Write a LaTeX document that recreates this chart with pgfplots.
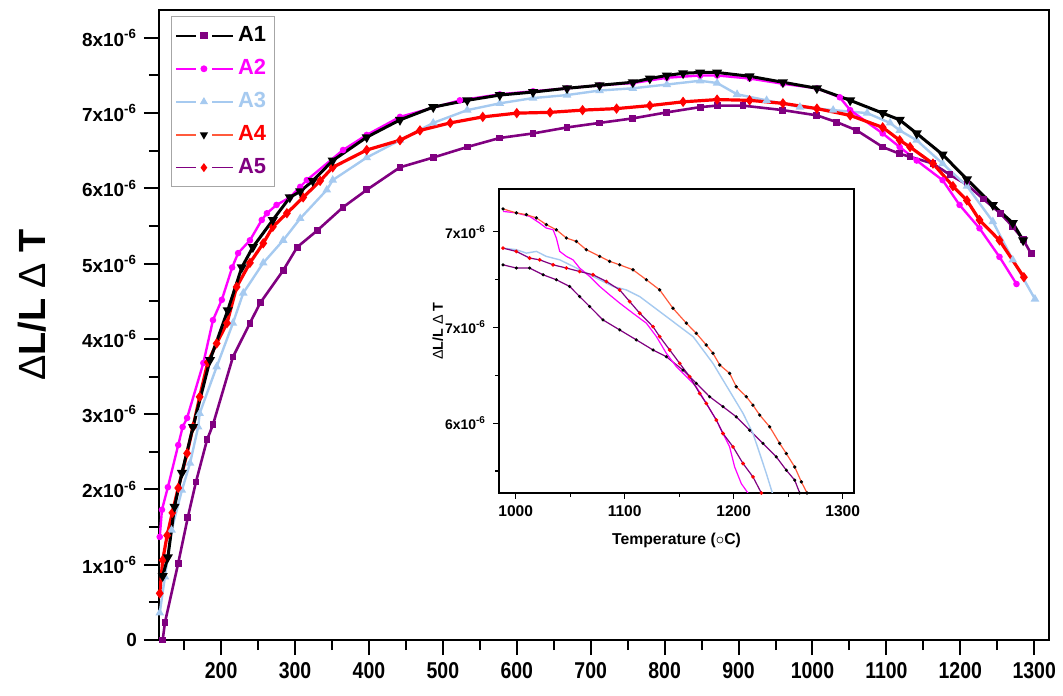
\documentclass[border=0pt]{standalone}
\usepackage{fontspec}
\setmainfont{Liberation Sans}
\usepackage{graphicx}
\usepackage{pgfplots}
\pgfplotsset{compat=1.18}

\definecolor{cpurple}{HTML}{800080}
\definecolor{cmagenta}{HTML}{FF00FF}
\definecolor{cblue}{HTML}{A6CAF0}
\definecolor{cred}{HTML}{FF0000}
\definecolor{corange}{HTML}{FF5A3C}

\pgfplotsset{
  A1/.style={draw=cpurple, line width=1.3bp, mark=square*, mark size=1.05bp, mark options={solid, fill=cpurple, draw=cpurple}},
  A2/.style={draw=cmagenta, line width=1.2bp, mark=*, mark size=1.0bp, mark options={solid, fill=cmagenta, draw=cmagenta}},
  A3/.style={draw=cblue, line width=1.2bp, mark=triangle*, mark size=1.3bp, mark options={solid, fill=cblue, draw=cblue}},
  A4/.style={draw=black, line width=1.5bp, mark=triangle*, mark size=1.45bp, mark options={solid, rotate=180, fill=black, draw=black}},
  A5/.style={draw=cred, line width=1.6bp, mark=diamond*, mark size=1.3bp, mark options={solid, fill=cred, draw=cred}},
  leg/.style={legend image code/.code={
      \draw[##1,mark=none] (0bp,0bp) -- (10bp,0bp);
      \draw[##1,mark=none] (18bp,0bp) -- (28.5bp,0bp);
      \draw[##1] plot coordinates {(13.8bp,0bp)};}},
}

\begin{document}
\begin{tikzpicture}
\useasboundingbox (0,0) rectangle (531.5bp,348bp);

% main chart
\begin{axis}[
  at={(79.5bp,28bp)}, anchor=south west,
  scale only axis, width=445bp, height=315bp,
  xmin=116, xmax=1320, ymin=0, ymax=8.37,
  axis line style={line width=1bp},
  xtick pos=bottom, ytick pos=left, tick align=outside,
  major tick length=7.5bp, minor tick length=5bp,
  every tick/.style={line width=1bp, black},
  xtick={200,300,...,1300},
  xticklabels={200,300,400,500,600,700,800,900,1000,1100,1200,1300},
  minor xtick={150,250,...,1250},
  ytick={0,1,...,8},
  yticklabels={0,1x10\textsuperscript{-6},2x10\textsuperscript{-6},3x10\textsuperscript{-6},4x10\textsuperscript{-6},5x10\textsuperscript{-6},6x10\textsuperscript{-6},7x10\textsuperscript{-6},8x10\textsuperscript{-6}},
  minor ytick={0.5,1.5,...,7.5},
  xticklabel style={font=\bfseries\fontsize{11.5}{12}\selectfont, xscale=0.85},
  yticklabel style={font=\bfseries\fontsize{9.5}{11}\selectfont},
  ylabel={\bfseries\fontsize{19}{21}\selectfont{\mdseries Δ}L/L {\mdseries Δ} T},
  ylabel style={at={(axis description cs:-0.1427,0.532)}, anchor=center, rotate=0},
  legend style={at={(axis description cs:0.0135,0.99)}, anchor=north west,
    draw=gray!70, line width=0.5bp, fill=white,
    font=\bfseries\fontsize{11}{12}\selectfont,
    row sep=3.4bp, inner xsep=2bp, inner ysep=3bp},
  legend cell align=left,
  leg,
]
\addplot[A1, forget plot] coordinates {
(121,0.0) (124,0.23) (142,1.02) (155,1.63) (166,2.10) (181,2.66) (189,2.86) (216,3.76)
(239,4.21) (253,4.48) (284,4.91) (303,5.22) (330,5.44) (365,5.75) (397,5.98) (442,6.28)
(487,6.41) (533,6.55) (577,6.67) (622,6.73) (668,6.81) (712,6.87) (757,6.93) (803,7.01)
(848,7.08) (871,7.10) (906,7.10) (960,7.04) (1006,6.97) (1033,6.88) (1060,6.77) (1095,6.55)
(1118,6.46) (1132,6.42) (1163,6.33) (1186,6.18) (1209,6.05) (1231,5.86) (1254,5.67)
(1271,5.49) (1285,5.32) (1296,5.13)
};
\addplot[A3, forget plot] coordinates {
(117,0.36) (124,0.84) (133,1.46) (147,1.99) (158,2.35) (169,2.83) (171,3.01) (194,3.63)
(216,4.21) (230,4.61) (257,5.01) (284,5.31) (307,5.60) (343,5.98) (351,6.11) (397,6.41)
(442,6.64) (487,6.87) (533,7.04) (577,7.13) (622,7.20) (668,7.24) (712,7.30) (757,7.33)
(803,7.38) (848,7.43) (871,7.40) (898,7.25) (938,7.17) (983,7.08) (1028,7.04) (1074,7.00)
(1105,6.87) (1118,6.77) (1141,6.64) (1176,6.33) (1209,6.03) (1244,5.56) (1271,5.05) (1301,4.53)
};
\addplot[A2, forget plot] coordinates {
(117,1.37) (120,1.73) (128,2.03) (142,2.59) (148,2.83) (154,2.95) (176,3.68) (189,4.25)
(201,4.52) (215,4.95) (223,5.14) (239,5.31) (255,5.58) (262,5.67) (275,5.78) (293,5.88)
(307,6.02) (316,6.11) (365,6.51) (397,6.71) (442,6.95) (523,7.17) (577,7.25) (622,7.29)
(668,7.33) (712,7.37) (757,7.40) (803,7.47) (848,7.50) (871,7.50) (915,7.46) (960,7.39)
(1006,7.33) (1037,7.21) (1051,7.04) (1095,6.73) (1118,6.55) (1141,6.37) (1176,6.11)
(1199,5.78) (1226,5.47) (1253,5.09) (1276,4.73)
};
\addplot[A5, forget plot] coordinates {
(117,0.62) (121,1.06) (127,1.39) (134,1.69) (142,2.02) (154,2.48) (162,2.83) (171,3.23)
(182,3.69) (194,3.94) (208,4.21) (221,4.69) (239,5.01) (257,5.27) (270,5.49) (289,5.67)
(311,5.88) (334,6.10) (351,6.28) (397,6.51) (442,6.64) (469,6.77) (510,6.87) (554,6.95)
(600,7.00) (645,7.01) (689,7.04) (735,7.06) (780,7.10) (825,7.15) (871,7.18) (915,7.17)
(960,7.13) (1006,7.06) (1051,6.97) (1095,6.81) (1118,6.64) (1132,6.55) (1163,6.33)
(1190,6.03) (1209,5.84) (1226,5.58) (1253,5.31) (1286,4.82)
};
\addplot[A4, forget plot] coordinates {
(121,0.85) (128,1.10) (137,1.77) (147,2.22) (162,2.83) (185,3.72) (209,4.38) (228,4.95)
(243,5.22) (270,5.58) (293,5.88) (307,5.96) (324,6.10) (351,6.37) (397,6.68) (442,6.91)
(487,7.08) (533,7.17) (577,7.24) (622,7.28) (668,7.33) (712,7.37) (757,7.41) (780,7.46)
(803,7.50) (825,7.53) (848,7.54) (871,7.54) (915,7.49) (960,7.41) (1006,7.33) (1051,7.17)
(1095,7.00) (1118,6.91) (1141,6.73) (1176,6.45) (1209,6.12) (1244,5.78) (1271,5.54) (1285,5.31)
};
\addlegendimage{draw=black, line width=0.8bp, mark=square*, mark size=1.4bp, mark options={fill=cpurple, draw=cpurple}}
\addlegendentry{\textcolor{black}{A1}}
\addlegendimage{draw=cmagenta, line width=0.8bp, mark=*, mark size=1.3bp, mark options={fill=cmagenta, draw=cmagenta}}
\addlegendentry{\textcolor{cmagenta}{A2}}
\addlegendimage{draw=cblue, line width=0.8bp, mark=triangle*, mark size=1.6bp, mark options={fill=cblue, draw=cblue}}
\addlegendentry{\textcolor{cblue}{A3}}
\addlegendimage{draw=corange, line width=0.8bp, mark=triangle*, mark size=1.6bp, mark options={rotate=180, fill=black, draw=black}}
\addlegendentry{\textcolor{cred}{A4}}
\addlegendimage{draw=cpurple, line width=0.8bp, mark=diamond*, mark size=1.6bp, mark options={fill=cred, draw=cred}}
\addlegendentry{\textcolor{cpurple}{A5}}
\end{axis}

% inset
\begin{axis}[
  at={(249.5bp,101.5bp)}, anchor=south west,
  scale only axis, width=177.5bp, height=152bp,
  xmin=984.7, xmax=1310.4, ymin=5.635, ymax=7.223,
  axis background/.style={fill=white},
  axis line style={line width=0.75bp},
  xtick pos=bottom, ytick pos=left, tick align=outside,
  major tick length=3bp, minor tick length=2bp,
  every tick/.style={line width=0.6bp, black},
  xtick={1000,1100,1200,1300},
  xticklabels={1000,1100,1200,1300},
  minor xtick={1050,1150,1250},
  ytick={6.0,6.5,7.0},
  yticklabels={6x10\textsuperscript{-6},7x10\textsuperscript{-6},7x10\textsuperscript{-6}},
  minor ytick={5.75,6.25,6.75},
  xticklabel style={font=\bfseries\fontsize{7.8}{9}\selectfont},
  yticklabel style={font=\bfseries\fontsize{7}{8}\selectfont},
  xlabel={\bfseries\fontsize{7.9}{9}\selectfont Temperature (${\circ}$C)},
  xlabel style={at={(axis description cs:0.5,-0.155)}, anchor=center},
  ylabel={\bfseries\fontsize{7.2}{8}\selectfont{\mdseries Δ}L/L {\mdseries Δ} T},
  ylabel style={at={(axis description cs:-0.172,0.533)}, anchor=center, rotate=0},
]
\addplot[draw=cpurple, line width=0.6bp, mark=*, mark size=0.45bp, mark options={fill=black, draw=black}] coordinates {
(988.4,6.827) (1000.6,6.810) (1012.8,6.810) (1025.1,6.775) (1037.3,6.749) (1049.5,6.714)
(1058.7,6.661) (1067.9,6.609) (1080.1,6.539) (1095.4,6.487) (1110.7,6.435) (1126.0,6.382)
(1138.2,6.347) (1153.5,6.277) (1165.7,6.208) (1177.9,6.138) (1190.2,6.086) (1202.4,6.033)
(1214.7,5.963) (1226.9,5.894) (1239.1,5.824) (1248.3,5.754) (1256.0,5.702) (1260.6,5.635)
};
\addplot[draw=cblue, line width=0.7bp, mark=none] coordinates {
(988.4,6.914) (1000.6,6.906) (1009.8,6.888) (1019.0,6.897) (1028.1,6.871) (1040.4,6.853)
(1052.6,6.819) (1064.8,6.784) (1077.1,6.749) (1089.3,6.714) (1101.5,6.696) (1113.8,6.661)
(1126.0,6.609) (1138.2,6.557) (1150.5,6.504) (1162.7,6.452) (1171.9,6.382) (1181.0,6.312)
(1190.2,6.225) (1199.4,6.138) (1208.6,6.051) (1217.7,5.946) (1223.9,5.841) (1230.0,5.736)
(1235.5,5.635)
};
\addplot[draw=cmagenta, line width=0.6bp, mark=none] coordinates {
(988.4,7.106) (1000.6,7.098) (1012.8,7.080) (1022.0,7.045) (1028.1,7.019) (1034.3,7.010)
(1037.3,6.967) (1040.4,6.897) (1046.5,6.871) (1052.6,6.853) (1058.7,6.810) (1067.9,6.766)
(1077.1,6.714) (1086.2,6.670) (1095.4,6.627) (1107.6,6.574) (1119.9,6.522) (1129.1,6.452)
(1138.2,6.365) (1147.4,6.295) (1156.6,6.243) (1165.7,6.190) (1174.9,6.103) (1184.1,6.016)
(1190.2,5.946) (1196.3,5.876) (1200.9,5.771) (1207.0,5.684) (1213.1,5.635)
};
\addplot[draw=cpurple, line width=0.6bp, mark=*, mark size=0.6bp, mark options={fill=cred, draw=cred}] coordinates {
(988.4,6.914) (1000.6,6.897) (1012.8,6.862) (1022.0,6.853) (1034.3,6.827) (1046.5,6.810)
(1058.7,6.792) (1070.9,6.775) (1083.2,6.740) (1095.4,6.696) (1104.6,6.635) (1113.8,6.574)
(1126.0,6.504) (1132.1,6.452) (1141.3,6.382) (1150.5,6.312) (1159.6,6.243) (1168.8,6.155)
(1174.9,6.103) (1184.1,6.016) (1190.2,5.946) (1199.4,5.876) (1208.6,5.789) (1217.7,5.719)
(1225.4,5.635)
};
\addplot[draw=corange, line width=0.6bp, mark=*, mark size=0.5bp, mark options={fill=black, draw=black}] coordinates {
(988.4,7.119) (1000.6,7.098) (1009.8,7.089) (1019.0,7.072) (1028.1,7.037) (1037.3,7.010)
(1046.5,6.967) (1055.7,6.949) (1064.8,6.906) (1077.1,6.871) (1086.2,6.845) (1095.4,6.827)
(1107.6,6.801) (1119.9,6.749) (1132.1,6.696) (1144.3,6.600) (1156.6,6.522) (1165.7,6.469)
(1174.9,6.408) (1181.0,6.365) (1187.2,6.304) (1196.3,6.260) (1202.4,6.190) (1211.6,6.138)
(1217.7,6.094) (1223.9,6.042) (1233.0,5.981) (1242.2,5.894) (1248.3,5.841) (1256.0,5.771)
(1262.1,5.693) (1267.3,5.635)
};
\end{axis}
\end{tikzpicture}
\end{document}
